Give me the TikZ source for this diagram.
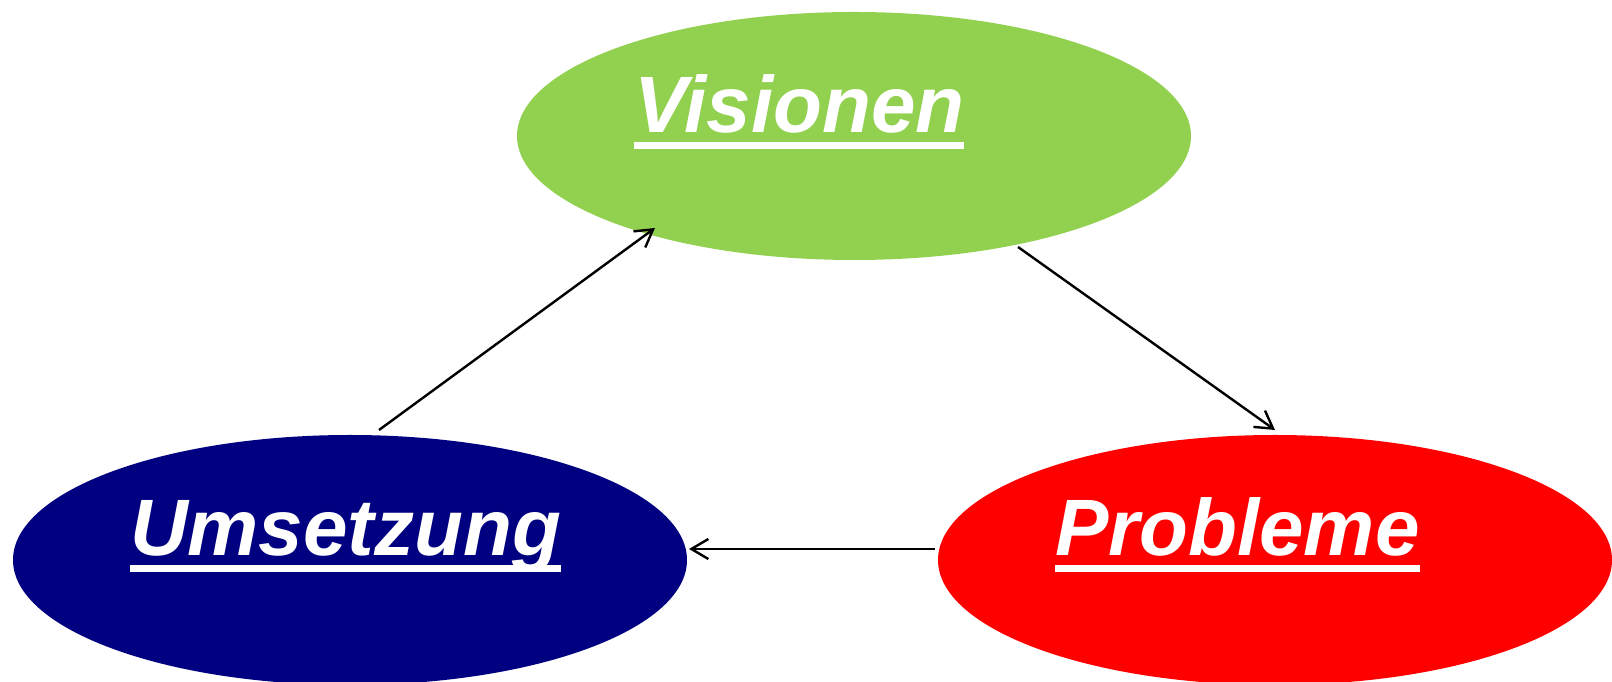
\documentclass[tikz,border=0pt]{standalone}
\usepackage{fontspec}
\setmainfont{Liberation Sans}
\usetikzlibrary{shapes.geometric,arrows.meta,calc}
\definecolor{vgreen}{HTML}{92D050}
\definecolor{unavy}{HTML}{000080}
\definecolor{pred}{HTML}{FF0000}
\tikzset{
  blob/.style={ellipse, draw=none, minimum width=674pt, minimum height=248pt, inner sep=0pt},
  label/.style={anchor=base west, inner sep=0pt, outer sep=0pt, text=white,
    font=\fontsize{80}{96}\selectfont\bfseries\itshape},
  uline/.style={fill=white, draw=none},
  arr/.style={draw=black, line width=2.4pt, -{Straight Barb[length=17pt,width=20pt,line width=2.4pt]}}
}
\begin{document}
\begin{tikzpicture}[x=1pt,y=1pt]
\useasboundingbox (0,0) rectangle (1612,682);
\fill[white] (0,0) rectangle (1612,682);
% ellipses
\node[blob, fill=vgreen] (V) at (854,546) {};
\node[blob, fill=unavy, minimum height=250pt] (U) at (350,122) {};
\node[blob, fill=pred, minimum height=250pt] (P) at (1275,122) {};
% texts
\node[label] (tv) at (634,549) {Visionen};
\fill[uline] ($(tv.base west)+(0,-9)$) rectangle ($(tv.base east)+(0,-16.5)$);
\node[label] (tu) at (130,126) {Umsetzung};
\fill[uline] ($(tu.base west)+(0,-9)$) rectangle ($(tu.base east)+(0,-16.5)$);
\node[label] (tp) at (1055,126) {Probleme};
\fill[uline] ($(tp.base west)+(0,-9)$) rectangle ($(tp.base east)+(0,-16.5)$);
% connector end points
\coordinate (a1s) at ($(U.center)+(29,130)$);
\coordinate (a1e) at ($(V.center)+(-199,-92)$);
\coordinate (a2s) at ($(V.center)+(164,-111)$);
\coordinate (a2e) at ($(P.center)+(0,130)$);
\coordinate (a3s) at ($(P.center)+(-340,11)$);
\coordinate (a3e) at ($(U.center)+(339,11)$);
\draw[arr] (a1s) -- (a1e);
\draw[arr] (a2s) -- (a2e);
\draw[arr] (a3s) -- (a3e);
\end{tikzpicture}
\end{document}
